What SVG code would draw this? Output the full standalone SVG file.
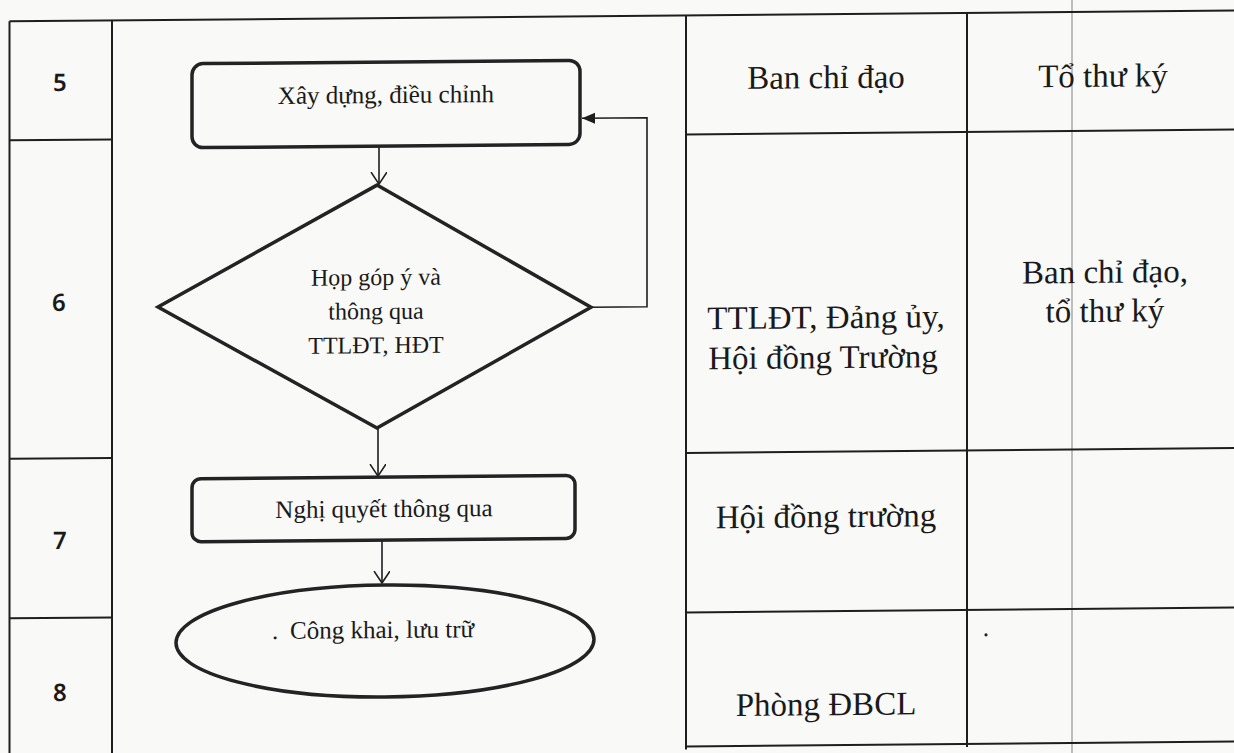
<svg xmlns="http://www.w3.org/2000/svg" width="1234" height="753" viewBox="0 0 1234 753">
<style>
.grid{stroke:#1e1e1e;stroke-width:2;fill:none}
.scan{stroke:#a9a9a9;stroke-width:1.5;fill:none}
.shape{stroke:#232323;stroke-width:3.5;fill:none}
.conn{stroke:#1e1e1e;stroke-width:1.6;fill:none}
.num{font-family:"Noto Sans","Open Sans",sans-serif;font-size:24px;font-weight:600;fill:#1a1a1a;text-anchor:middle}
.lbl{font-family:"Liberation Serif","Times New Roman",serif;font-size:25px;fill:#1a1a1a;text-anchor:middle}
.dlbl{font-family:"Liberation Serif","Times New Roman",serif;font-size:24px;fill:#1a1a1a;text-anchor:middle}
.slbl{font-family:"Liberation Serif","Times New Roman",serif;font-size:25px;fill:#1a1a1a;text-anchor:start}
.cell{font-family:"Liberation Serif","Times New Roman",serif;font-size:33px;fill:#1a1a1a;text-anchor:middle}
</style>
<defs>
<marker id="open" markerUnits="userSpaceOnUse" markerWidth="20" markerHeight="20" refX="12" refY="8" orient="auto">
<path d="M0,0 L12,8 L0,16" fill="none" stroke="#1e1e1e" stroke-width="1.6"/>
</marker>
<marker id="solid" markerUnits="userSpaceOnUse" markerWidth="16" markerHeight="12" refX="13" refY="5.5" orient="auto">
<path d="M0,0 L13,5.5 L0,11 Z" fill="#1e1e1e"/>
</marker>
</defs>
<rect x="0" y="0" width="1234" height="753" fill="#f9f9f7"/>
<g transform="matrix(1,-0.00873,0,1,0,5.39)">
<g id="table">
<line class="scan" x1="1072" y1="-10" x2="1072" y2="760"/>
<line class="grid" x1="9.5" y1="16" x2="1240" y2="16"/>
<line class="grid" x1="9.5" y1="16" x2="9.5" y2="760"/>
<line class="grid" x1="112" y1="16" x2="112" y2="760"/>
<line class="grid" x1="686" y1="16" x2="686" y2="750"/>
<line class="grid" x1="967" y1="16" x2="967" y2="750"/>
<line class="grid" x1="9.5" y1="135" x2="112" y2="135"/>
<line class="grid" x1="686" y1="135" x2="1240" y2="135"/>
<line class="grid" x1="9.5" y1="453.5" x2="112" y2="453.5"/>
<line class="grid" x1="686" y1="453.5" x2="1240" y2="453.5"/>
<line class="grid" x1="9.5" y1="613" x2="112" y2="613"/>
<line class="grid" x1="686" y1="613" x2="1240" y2="613"/>
<line class="grid" x1="686" y1="747" x2="1240" y2="747"/>
<circle cx="986" cy="638" r="1.6" fill="#222"/>
</g>
<g id="row-numbers">
<text class="num" x="60" y="86">5</text>
<text class="num" x="59" y="306">6</text>
<text class="num" x="60" y="544">7</text>
<text class="num" x="60" y="696">8</text>
</g>
<g id="cells">
<text class="cell" x="826" y="90">Ban chỉ đạo</text>
<text class="cell" x="1103" y="91">Tổ thư ký</text>
<text class="cell" x="826" y="330">TTLĐT, Đảng ủy,</text>
<text class="cell" x="823" y="370">Hội đồng Trường</text>
<text class="cell" x="1105" y="287">Ban chỉ đạo,</text>
<text class="cell" x="1105" y="326">tổ thư ký</text>
<text class="cell" x="826" y="529">Hội đồng trường</text>
<text class="cell" x="826" y="717">Phòng ĐBCL</text>
</g>
<g id="connectors">
<line class="conn" x1="379" y1="144" x2="379" y2="182" marker-end="url(#open)"/>
<polyline class="conn" points="591,307 647,307 647,118 582,118" marker-end="url(#solid)"/>
<line class="conn" x1="378" y1="426" x2="378" y2="474" marker-end="url(#open)"/>
<line class="conn" x1="382" y1="539" x2="382" y2="581" marker-end="url(#open)"/>
</g>
<g id="node-xay-dung">
<rect class="shape" x="192" y="60" width="388" height="84" rx="11"/>
<text class="lbl" x="386" y="101">Xây dựng, điều chỉnh</text>
</g>
<g id="node-hop-gop-y">
<polygon class="shape" points="377,183 591,307 377,426 158,303"/>
<text class="dlbl" x="376" y="283">Họp góp ý và</text>
<text class="dlbl" x="376" y="317">thông qua</text>
<text class="dlbl" x="376" y="351">TTLĐT, HĐT</text>
</g>
<g id="node-nghi-quyet">
<rect class="shape" x="192" y="475" width="383" height="63" rx="9"/>
<text class="lbl" x="384" y="515">Nghị quyết thông qua</text>
</g>
<g id="node-cong-khai">
<ellipse class="shape" cx="385" cy="639" rx="209" ry="56"/>
<text class="slbl" x="272" y="636">.<tspan x="290">Công khai, lưu trữ</tspan></text>
</g>
</g>
</svg>
